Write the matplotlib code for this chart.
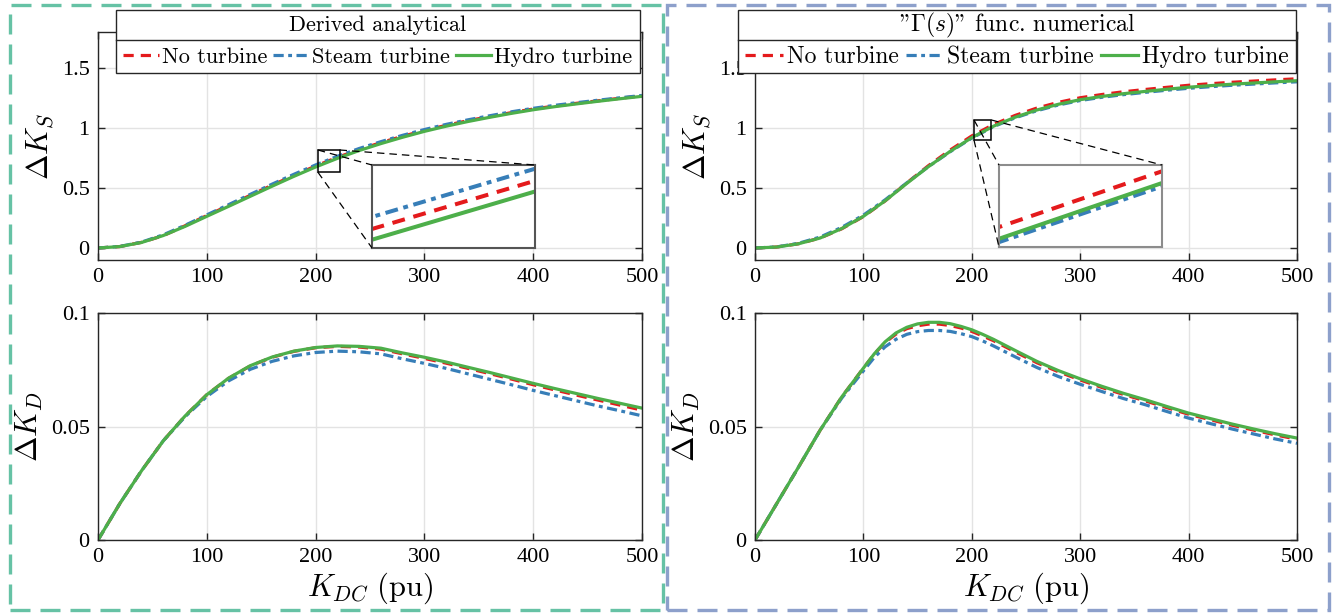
import matplotlib
matplotlib.use('Agg')
import matplotlib.pyplot as plt
from matplotlib.patches import Rectangle
from matplotlib.lines import Line2D

plt.rcParams['font.family'] = ['Liberation Serif', 'DejaVu Serif']
plt.rcParams['mathtext.fontset'] = 'cm'

# data
k_dc = [0, 20, 40, 60, 80, 100, 120, 140, 160, 180, 200, 220, 240,
        260, 280, 300, 320, 340, 360, 380, 400, 420, 440, 460, 480, 500]

# derived analytical, delta K_S
ks_ana_none = [0, 0.012, 0.047, 0.103, 0.185, 0.270, 0.354, 0.439, 0.523, 0.605, 0.683, 0.755, 0.820,
               0.878, 0.931, 0.979, 1.022, 1.061, 1.095, 1.128, 1.158, 1.183, 1.206, 1.227, 1.248, 1.268]
ks_ana_steam = [0, 0.013, 0.049, 0.110, 0.189, 0.276, 0.361, 0.447, 0.532, 0.614, 0.692, 0.764, 0.829,
                0.886, 0.939, 0.987, 1.030, 1.068, 1.102, 1.135, 1.164, 1.189, 1.211, 1.232, 1.252, 1.271]
ks_ana_hydro = [0, 0.012, 0.046, 0.104, 0.180, 0.264, 0.347, 0.431, 0.515, 0.597, 0.675, 0.747, 0.812,
                0.870, 0.923, 0.972, 1.015, 1.054, 1.089, 1.122, 1.152, 1.178, 1.201, 1.223, 1.244, 1.264]

# Gamma(s) numerical, delta K_S
ks_num_none = [0, 0.008, 0.035, 0.083, 0.160, 0.262, 0.392, 0.542, 0.686, 0.816, 0.934, 1.029, 1.105,
               1.166, 1.214, 1.252, 1.279, 1.302, 1.321, 1.339, 1.356, 1.369, 1.381, 1.391, 1.401, 1.410]
ks_num_steam = [0, 0.009, 0.039, 0.091, 0.172, 0.274, 0.401, 0.543, 0.678, 0.802, 0.916, 1.011, 1.085,
                1.144, 1.192, 1.229, 1.256, 1.278, 1.297, 1.315, 1.331, 1.344, 1.356, 1.366, 1.376, 1.385]
ks_num_hydro = [0, 0.008, 0.035, 0.083, 0.162, 0.264, 0.393, 0.538, 0.678, 0.805, 0.920, 1.015, 1.090,
                1.150, 1.198, 1.236, 1.263, 1.286, 1.305, 1.323, 1.340, 1.353, 1.365, 1.375, 1.385, 1.394]

# derived analytical, delta K_D
kd_ana_none = [0, 0.0160, 0.0305, 0.0437, 0.0546, 0.0640, 0.0712, 0.0767, 0.0805, 0.0831, 0.0847, 0.0853, 0.0850,
               0.0841, 0.0820, 0.0800, 0.0779, 0.0756, 0.0733, 0.0709, 0.0684, 0.0661, 0.0638, 0.0616, 0.0594, 0.0572]
kd_ana_steam = [0, 0.0160, 0.0305, 0.0437, 0.0543, 0.0632, 0.0701, 0.0752, 0.0787, 0.0811, 0.0826, 0.0832, 0.0829,
                0.0820, 0.0798, 0.0778, 0.0756, 0.0732, 0.0708, 0.0684, 0.0659, 0.0636, 0.0613, 0.0590, 0.0569, 0.0547]
kd_ana_hydro = [0, 0.0160, 0.0305, 0.0437, 0.0546, 0.0640, 0.0713, 0.0768, 0.0806, 0.0832, 0.0848, 0.0855, 0.0853,
                0.0845, 0.0824, 0.0805, 0.0784, 0.0761, 0.0738, 0.0714, 0.0690, 0.0667, 0.0645, 0.0623, 0.0602, 0.0581]

# Gamma(s) numerical, delta K_D (denser around the peak)
k_dc_fine = [0, 20, 40, 60, 80, 100, 110, 120, 130, 140, 150, 160, 170, 180, 190, 200, 210, 220, 240,
             260, 280, 300, 320, 340, 360, 380, 400, 420, 440, 460, 480, 500]
kd_num_none = [0, 0.0160, 0.0320, 0.0483, 0.0630, 0.0757, 0.0819, 0.0870, 0.0907, 0.0931, 0.0944, 0.0951,
               0.0951, 0.0945, 0.0934, 0.0919, 0.0899, 0.0878, 0.0829, 0.0781, 0.0741, 0.0705, 0.0672, 0.0641,
               0.0613, 0.0583, 0.0554, 0.0530, 0.0506, 0.0484, 0.0463, 0.0444]
kd_num_steam = [0, 0.0160, 0.0320, 0.0483, 0.0625, 0.0745, 0.0804, 0.0851, 0.0884, 0.0906, 0.0918, 0.0923,
                0.0923, 0.0919, 0.0909, 0.0896, 0.0877, 0.0855, 0.0807, 0.0760, 0.0720, 0.0686, 0.0654, 0.0623,
                0.0596, 0.0566, 0.0537, 0.0513, 0.0489, 0.0467, 0.0445, 0.0426]
kd_num_hydro = [0, 0.0160, 0.0320, 0.0483, 0.0630, 0.0757, 0.0820, 0.0873, 0.0912, 0.0937, 0.0952, 0.0959,
                0.0959, 0.0953, 0.0941, 0.0926, 0.0906, 0.0884, 0.0835, 0.0787, 0.0746, 0.0710, 0.0677, 0.0646,
                0.0618, 0.0588, 0.0559, 0.0535, 0.0511, 0.0489, 0.0468, 0.0449]

labels = ['No turbine', 'Steam turbine', 'Hydro turbine']
titles = ['Derived analytical', '"' + r'$\Gamma(s)$' + '" func. numerical']

red, blue, green = '#e41a1c', '#377eb8', '#4daf4a'
styles = [dict(color=red, ls=(0, (3.2, 2.2))),
          dict(color=blue, ls=(0, (3.2, 1.4, 1.2, 1.4))),
          dict(color=green, ls='-')]
LW = 2.3

W, H = 1338, 616
fig = plt.figure(figsize=(W / 100, H / 100), dpi=100)


def px(x0, y0, x1, y1):
    return [x0 / W, 1 - y1 / H, (x1 - x0) / W, (y1 - y0) / H]


def style_ax(ax):
    ax.grid(True, color='#e3e3e3', lw=1)
    ax.set_axisbelow(True)
    ax.tick_params(direction='in', top=True, right=True, length=5, width=1,
                   labelsize=16, color='#262626', pad=6)
    for s in ax.spines.values():
        s.set_color('#262626')
        s.set_linewidth(1)
    ax.set_xlim(0, 500)
    ax.set_xticks([0, 100, 200, 300, 400, 500])
    ax.set_xticklabels(['0', '100', '200', '300', '400', '500'])


panels = [
    (98, 642, k_dc, [ks_ana_none, ks_ana_steam, ks_ana_hydro],
     k_dc, [kd_ana_none, kd_ana_steam, kd_ana_hydro]),
    (755, 1297, k_dc, [ks_num_none, ks_num_steam, ks_num_hydro],
     k_dc_fine, [kd_num_none, kd_num_steam, kd_num_hydro]),
]
inset_px = [(372, 165, 535, 248), (999, 165, 1162, 247)]
inset_lims = [((200, 210), (0.6688, 0.7308)), ((200, 214), (0.9102, 1.008))]
rect_data = [(202, 0.633, 20, 0.184), (202, 0.900, 16, 0.167)]
inset_edge = ['#555555', '#8c8c8c']
leg_box = [(116, 640), (738, 1296)]
col_space = [0.25, 0.3]
leg_size = [16, 17]

for i, (x0, x1, xs1, ks, xs2, kd) in enumerate(panels):
    ax1 = fig.add_axes(px(x0, 32, x1, 260))
    ax2 = fig.add_axes(px(x0, 313, x1, 540))
    handles = []
    for ys, st in zip(ks, styles):
        h, = ax1.plot(xs1, ys, lw=LW, **st)
        handles.append(h)
    for ys, st in zip(kd, styles):
        ax2.plot(xs2, ys, lw=LW, **st)
    style_ax(ax1)
    style_ax(ax2)
    ax1.set_ylim(-0.1, 1.8)
    ax1.set_yticks([0, 0.5, 1, 1.5])
    ax1.set_yticklabels(['0', '0.5', '1', '1.5'])
    ax2.set_ylim(0, 0.1)
    ax2.set_yticks([0, 0.05, 0.1])
    ax2.set_yticklabels(['0', '0.05', '0.1'])
    ax1.set_ylabel(r'$\Delta K_S$', fontsize=22, labelpad=4)
    ax2.set_ylabel(r'$\Delta K_D$', fontsize=22, labelpad=4)
    ax2.set_xlabel(r'$K_{DC}\ \mathrm{(pu)}$', fontsize=22, labelpad=2)

    # zoom rectangle and inset
    rx, ry, rw, rh = rect_data[i]
    ax1.add_patch(Rectangle((rx, ry), rw, rh, fill=False, ec='black', lw=1.1, zorder=5))
    ix0, iy0, ix1, iy1 = inset_px[i]
    axin = fig.add_axes(px(ix0, iy0, ix1, iy1))
    for ys, st in zip(ks, styles):
        axin.plot(xs1, ys, lw=LW + 0.6, **st)
    axin.set_xlim(*inset_lims[i][0])
    axin.set_ylim(*inset_lims[i][1])
    axin.set_xticks([])
    axin.set_yticks([])
    for s in axin.spines.values():
        s.set_color(inset_edge[i])
        s.set_linewidth(1.5)

    # connector lines from the rectangle corners to the inset corners
    corners = [((rx, ry + rh), (ix0, iy0)), ((rx + rw, ry + rh), (ix1, iy0)), ((rx, ry), (ix0, iy1))]
    for (cx, cy), (qx, qy) in corners:
        p = ax1.transData.transform((cx, cy))
        fig.add_artist(Line2D([p[0] / W, qx / W], [p[1] / H, 1 - qy / H], color='black', lw=0.9,
                              ls=(0, (6, 4)), transform=fig.transFigure, zorder=6))

    # legend with title box
    lx0, lx1 = leg_box[i]
    fig.add_artist(Rectangle((lx0 / W, 1 - 73 / H), (lx1 - lx0) / W, 63 / H, transform=fig.transFigure,
                             fc='white', ec='#262626', lw=1, zorder=10))
    fig.add_artist(Line2D([lx0 / W, lx1 / W], [1 - 40 / H, 1 - 40 / H], color='#262626', lw=1,
                          transform=fig.transFigure, zorder=11))
    fig.text((lx0 + lx1) / 2 / W, 1 - 25 / H, titles[i], ha='center', va='center', fontsize=leg_size[i],
             family='cmr10', zorder=12)
    leg = fig.legend(handles, labels, loc='center', bbox_to_anchor=((lx0 + lx1) / 2 / W, 1 - 57 / H),
                     ncol=3, frameon=False, handlelength=1.6, handletextpad=0.15, columnspacing=col_space[i],
                     prop={'family': 'cmr10', 'size': leg_size[i]}, borderpad=0, borderaxespad=0)
    leg.set_zorder(12)

# dashed group boxes
fig.add_artist(Rectangle((10 / W, 1 - 610 / H), 653 / W, 605 / H, transform=fig.transFigure, fill=False,
                         ec='#66c2a5', lw=2.4, ls=(0, (6, 3))))
fig.add_artist(Rectangle((667 / W, 1 - 610 / H), 662 / W, 605 / H, transform=fig.transFigure, fill=False,
                         ec='#8da0cb', lw=2.4, ls=(0, (6, 3))))

fig.savefig('out.png', dpi=100)
